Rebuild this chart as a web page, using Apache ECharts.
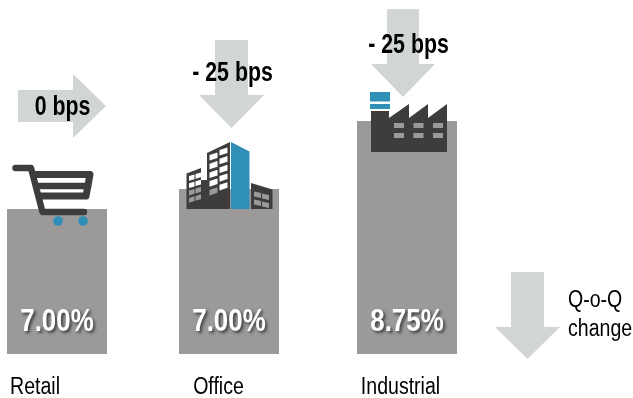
<!DOCTYPE html>
<html>
<head>
<meta charset="utf-8">
<style>html,body{margin:0;padding:0;background:#fff}#c{width:633px;height:398px}</style>
<script src="https://cdn.jsdelivr.net/npm/echarts@6/dist/echarts.min.js"></script>
</head>
<body>
<div id="c"></div>
<script>
// Cap rates by property sector with the quarter-on-quarter move in basis points.
const categories = ['Retail', 'Office', 'Industrial'];
const capRates = [7.00, 7.00, 8.75];
const bpsChange = ['0 bps', '- 25 bps', '- 25 bps'];
const legendLines = ['Q-o-Q', 'change'];

// Each sector has its own panel, as the infographic scales its columns independently.
const panelLeft = [7, 179, 357];
const panelTop = [209, 189, 121];
const panelBottom = 354;
const panelWidth = 100;
const nameCentre = [35, 218.5, 400.5];

const GREY = '#9b9a98', ARROW = '#d1d5d6', DARK = '#3e3d3b', BLUE = '#2f8fb6';
const SANS = '"Liberation Sans",Arial,sans-serif';

const poly = (points, fill, z) => ({ type: 'polygon', z: z || 5, shape: { points }, style: { fill } });
const box = (x, y, width, height, fill, z) => ({ type: 'rect', z: z || 6, shape: { x, y, width, height }, style: { fill } });
const stroke = (points, lineWidth) => ({
  type: 'polyline', z: 5, shape: { points },
  style: { stroke: DARK, lineWidth, fill: null, lineCap: 'round', lineJoin: 'round' }
});
// Text set in a condensed cut: the sans face squeezed horizontally about its anchor.
const txt = (text, x, y, font, scaleX, align, extra) => ({
  type: 'text', z: 10, x, y, scaleX,
  style: Object.assign({ text, fill: '#000', font, align: align || 'center', verticalAlign: 'middle' }, extra)
});

const downArrow = (l, r, hl, hr, top, neck, tipX, tipY) => poly(
  [[l, top], [r, top], [r, neck], [hr, neck], [tipX, tipY], [hl, neck], [l, neck]], ARROW, 2);

// Change arrows
const arrows = [
  poly([[18, 90], [73, 90], [73, 74], [106, 106], [73, 138], [73, 122], [18, 122]], ARROW, 2),
  downArrow(215, 248, 199, 264, 40, 95, 231.5, 128),
  downArrow(387, 419, 371, 435, 9, 64, 403, 97),
  downArrow(511, 544, 495, 560, 272, 327, 527.5, 359)
];

// Shopping cart
const cart = [
  stroke([[15.5, 168], [31, 168], [42.5, 212], [84, 212]], 6.5),
  stroke([[35, 174.5], [90, 174.5], [86, 196], [40, 196]], 7),
  stroke([[38, 186], [88, 186]], 6.5),
  { type: 'circle', z: 6, shape: { cx: 58, cy: 221, r: 4.8 }, style: { fill: BLUE } },
  { type: 'circle', z: 6, shape: { cx: 83, cy: 221, r: 4.8 }, style: { fill: BLUE } }
];

// Office towers
const officeWindows = [];
const win = (x, y, w, h, rise, fill) => poly([[x, y], [x + w, y - rise], [x + w, y - rise + h], [x, y + h]], fill, 6);
[[209.5, 155], [219.5, 150]].forEach(([x, y0]) => {
  for (let r = 0; r < 5; r++) {
    const y = y0 + r * 8.7;
    officeWindows.push(win(x, y, 8, 5.6, 2.6, y < 186 ? '#fff' : GREY));
  }
});
[[189, 176], [195.5, 174]].forEach(([x, y0]) => {
  for (let r = 0; r < 4; r++) {
    const y = y0 + r * 7.3;
    officeWindows.push(win(x, y, 5.5, 4.8, 1.6, y < 187 ? '#fff' : GREY));
  }
});
[[254, 191.5], [262, 193.5]].forEach(([x, y0]) => {
  for (let r = 0; r < 2; r++) {
    const y = y0 + r * 8;
    officeWindows.push(win(x, y, 7, 5, -1.6, GREY));
  }
});
const office = [
  poly([[186.5, 173.5], [201, 168], [201, 180], [207, 180], [207, 209], [186.5, 209]], DARK),
  poly([[207, 153], [230, 142], [230, 209], [207, 209]], DARK),
  poly([[231, 142], [249.5, 151.5], [249.5, 209], [231, 209]], BLUE),
  poly([[251, 183], [272.5, 189.5], [272.5, 209], [251, 209]], DARK),
  ...officeWindows
];

// Factory
const factoryWindows = [];
[394, 413.5, 433].forEach(x => [123, 133].forEach(y => factoryWindows.push(box(x, y, 10, 5, GREY))));
const factory = [
  poly([[371, 111], [389, 111], [389, 118], [409, 104], [409, 118], [428, 104], [428, 118], [447, 104], [447, 152], [371, 152]], DARK),
  box(370, 92, 20, 9.5, BLUE),
  box(370, 104, 20, 5, BLUE),
  ...factoryWindows
];

const BOLD = 'bold 27px ' + SANS, PLAIN = '23px ' + SANS;
const labels = [
  txt(bpsChange[0], 62.5, 108, BOLD, 0.79),
  txt(bpsChange[1], 232.5, 74, BOLD, 0.79),
  txt(bpsChange[2], 408.5, 46, BOLD, 0.79),
  txt(legendLines[0], 568, 301, PLAIN, 0.85, 'left'),
  txt(legendLines[1], 568, 330, PLAIN, 0.85, 'left')
];

const idx = categories.map((_, i) => i);
const rateLabels = idx.map(i => txt(
  capRates[i].toFixed(2) + '%', panelLeft[i] + panelWidth / 2, 322, 'bold 32px ' + SANS, 0.81, 'center',
  { fill: '#fff', textShadowColor: 'rgba(40,40,40,0.8)', textShadowBlur: 3, textShadowOffsetX: 2, textShadowOffsetY: 2 }
));
const nameLabels = idx.map(i => txt(categories[i], nameCentre[i], 388, PLAIN, 0.85));

const chart = echarts.init(document.getElementById('c'), null, { renderer: 'canvas' });
chart.setOption({
  animation: false,
  backgroundColor: '#fff',
  grid: idx.map(i => ({
    left: panelLeft[i], width: panelWidth,
    top: panelTop[i], height: panelBottom - panelTop[i],
    outerBoundsMode: 'none'
  })),
  xAxis: idx.map(i => ({
    type: 'category', gridIndex: i, data: [categories[i]],
    axisLine: { show: false }, axisTick: { show: false }, axisLabel: { show: false }
  })),
  yAxis: idx.map(i => ({ type: 'value', gridIndex: i, min: 0, max: capRates[i], show: false })),
  series: idx.map(i => ({
    type: 'bar', xAxisIndex: i, yAxisIndex: i, barWidth: '100%',
    data: [capRates[i]],
    itemStyle: { color: GREY }
  })),
  graphic: { elements: [...arrows, ...cart, ...office, ...factory, ...labels, ...rateLabels, ...nameLabels] }
});
</script>
</body>
</html>
